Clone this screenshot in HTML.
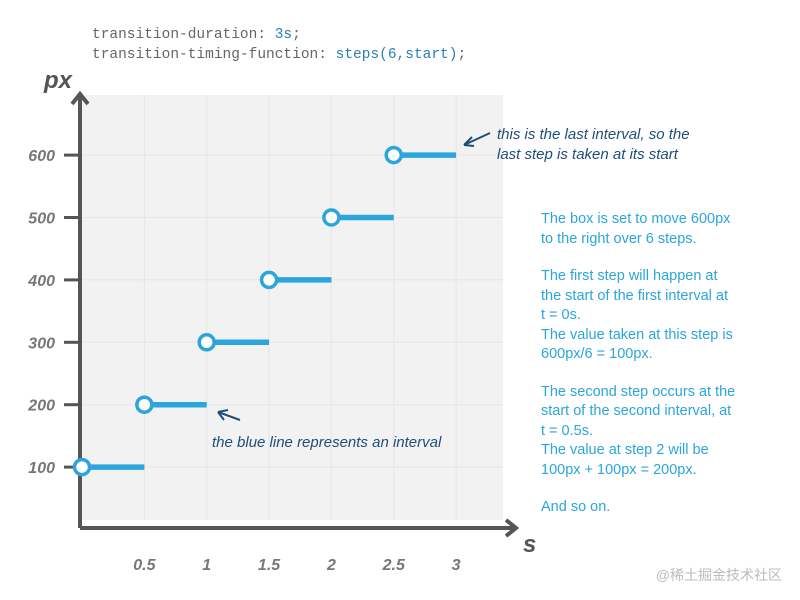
<!DOCTYPE html>
<html><head><meta charset="utf-8"><style>
body{margin:0;width:800px;height:600px;background:#fff;overflow:hidden;font-family:"Liberation Sans",sans-serif}
.code{position:absolute;left:92px;top:25px;font-family:"Liberation Mono",monospace;font-size:14.5px;color:#666;line-height:20px}
.code b{font-weight:normal;color:#2a7fb5}
.note{position:absolute;left:541px;top:210px;color:#2ba5dc;font-size:14.5px;line-height:19.5px;white-space:nowrap}
.note p{margin:0 0 18px}
.wm{position:absolute;right:18px;top:565px;color:#bbb;font-size:14px;font-family:"Liberation Sans","Noto Sans CJK SC",sans-serif}
</style></head><body>
<div class="code">transition-duration: <b>3s</b>;<br>transition-timing-function: <b>steps(6,start)</b>;</div>
<svg id="c" width="800" height="600" style="position:absolute;left:0;top:0"></svg>
<div class="note">
<p>The box is set to move 600px<br>to the right over 6 steps.</p>
<p>The first step will happen at<br>the start of the first interval at<br>t = 0s.<br>The value taken at this step is<br>600px/6 = 100px.</p>
<p>The second step occurs at the<br>start of the second interval, at<br>t = 0.5s.<br>The value at step 2 will be<br>100px + 100px = 200px.</p>
<p>And so on.</p></div>
<div class="wm">@稀土掘金技术社区</div>
<script>
const xTicks=[0.5,1,1.5,2,2.5,3];
const yTicks=[100,200,300,400,500,600];
const starts=[0,0.5,1,1.5,2,2.5];
const values=[100,200,300,400,500,600];
const stepLen=0.5;
const NS="http://www.w3.org/2000/svg";
const svg=document.getElementById('c');
const X=v=>82+v*124.7, Y=v=>529.5-v*0.624;
function mk(t,a,p){const e=document.createElementNS(NS,t);for(const k in a)e.setAttribute(k,a[k]);(p||svg).appendChild(e);return e;}
let e=mk('rect',{x:82,y:95,width:421,height:425,fill:'#f2f2f2'});

for(const t of xTicks){e=mk('line',{x1:X(t),x2:X(t),y1:95,y2:520,stroke:'#e6e6e6'});}
for(const t of yTicks){e=mk('line',{x1:82,x2:503,y1:Y(t),y2:Y(t),stroke:'#e6e6e6'});
 e=mk('line',{x1:64,x2:80,y1:Y(t),y2:Y(t),stroke:'#555',"stroke-width":3});
 e=mk('text',{x:55,y:Y(t)+6,"text-anchor":"end","font-size":16,"font-style":"italic","font-weight":"bold",fill:'#777'});e.textContent=t;}
for(const t of xTicks){e=mk('text',{x:X(t),y:570,"text-anchor":"middle","font-size":16,"font-style":"italic","font-weight":"bold",fill:'#777'});e.textContent=t;}
e=mk('path',{d:'M80 528V95 M72 104L80 94L88 104 M80 528H515 M506 520L516 528L506 536',stroke:'#555',"stroke-width":4,fill:'none'});
e=mk('text',{x:44,y:88,"font-size":24,"font-style":"italic","font-weight":"bold",fill:'#555'});e.textContent='px';
e=mk('text',{x:523,y:552,"font-size":24,"font-style":"italic","font-weight":"bold",fill:'#555'});e.textContent='s';
starts.forEach((s,i)=>{
 e=mk('line',{x1:X(s),x2:X(s+stepLen),y1:Y(values[i]),y2:Y(values[i]),stroke:'#2ba5dc',"stroke-width":5.5});
 e=mk('circle',{cx:X(s),cy:Y(values[i]),r:7.5,fill:'#fff',stroke:'#2ba5dc',"stroke-width":3.5});
});
e=mk('path',{d:'M490 133L464 145M464 145L472 137M464 145L474 146 M240 420L218 412M218 412L224 420M218 412L228 410',stroke:'#1f4e79',"stroke-width":2,fill:'none'});
const ann=[[497,139,'this is the last interval, so the'],[497,159,'last step is taken at its start'],[212,447,'the blue line represents an interval']];
for(const a of ann){e=mk('text',{x:a[0],y:a[1],"font-size":15,"font-style":"italic",fill:'#1f4e79'});e.textContent=a[2];}
</script>
</body></html>
